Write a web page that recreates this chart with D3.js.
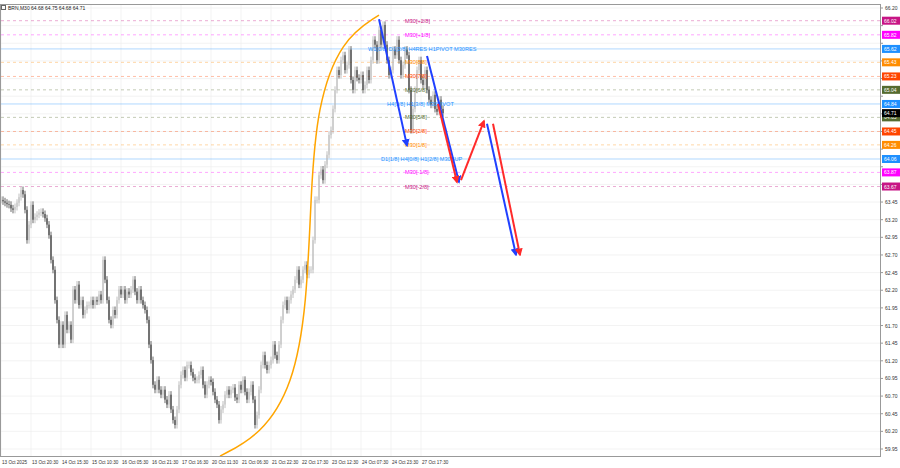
<!DOCTYPE html>
<html><head><meta charset="utf-8">
<script src="https://cdn.jsdelivr.net/npm/d3@7"></script>
<style>body{margin:0;background:#fff}text{font-family:"Liberation Sans",sans-serif}</style>
</head><body>
<script>
// closes of the M30 candles (~1 candle per 2px)
const closes = [63.48,63.46,63.44,63.42,63.41,63.36,63.34,63.38,63.44,63.52,63.62,63.56,63.34,62.91,63.13,63.41,63.20,63.24,63.27,63.30,63.31,63.28,63.22,63.13,62.98,62.63,62.49,62.06,61.78,61.43,61.71,61.43,61.85,61.64,61.71,61.50,62.21,62.06,62.28,61.99,62.06,61.85,61.92,61.99,61.99,62.06,61.99,62.06,62.04,62.14,62.06,62.63,62.35,62.06,61.78,61.71,61.92,61.85,62.06,62.21,62.14,62.21,62.06,62.18,62.14,62.21,62.35,62.18,62.06,62.21,62.06,61.99,61.92,61.78,61.43,61.21,60.86,60.79,60.93,60.79,60.72,60.79,60.65,60.58,60.72,60.51,60.36,60.29,60.51,60.86,61.00,61.07,60.96,61.14,61.14,61.04,60.96,60.93,60.93,61.00,61.07,60.86,60.72,60.86,60.93,60.90,60.76,60.65,60.58,60.36,60.51,60.58,60.72,60.79,60.72,60.79,60.82,60.68,60.65,60.86,60.79,60.93,60.76,60.65,60.76,60.86,60.65,60.29,60.43,60.79,61.14,61.28,61.14,61.07,61.14,61.21,61.43,61.28,61.21,61.43,61.78,61.99,62.06,61.92,62.06,62.14,62.21,62.35,62.49,62.28,62.35,62.49,62.56,62.42,62.49,62.49,62.91,63.48,63.48,63.83,63.91,63.76,63.98,64.12,64.40,64.47,64.77,65.04,65.32,65.25,65.46,65.53,65.32,65.39,65.61,65.18,65.04,65.32,65.21,65.18,65.25,65.04,65.11,65.32,65.18,65.46,65.75,65.68,65.46,65.89,65.68,65.96,65.68,65.46,65.25,65.32,65.61,65.53,65.75,65.46,65.25,65.39,65.61,65.53,65.04,64.47,64.77,65.04,65.32,65.46,65.18,65.11,65.32,65.04,64.90,64.83,64.97,64.77,64.73,64.90,64.77,64.71];
const wick = 0.05;
const timeLabels = ["13 Oct 2025","13 Oct 20:30","14 Oct 15:30","15 Oct 10:30","16 Oct 05:30","16 Oct 21:30","17 Oct 16:30","20 Oct 11:30","21 Oct 06:30","21 Oct 22:30","22 Oct 17:30","23 Oct 12:30","24 Oct 07:30","24 Oct 23:30","27 Oct 17:30"];
const priceTicks = d3.range(59.95, 66.21, 0.25);
// levels: price, colour, label, label start (candle index), style
const levels = [
  [66.02,"#c71585","M30[+2/8]",202,"dash"],
  [65.82,"#ff00ff","M30[+1/8]",202,"dash"],
  [65.62,"#1e90ff","W1[0/8] D1[2/8] H4RES H1PIVOT M30RES",183.5,"solid"],
  [65.43,"#ff8c00","M30[8/8]",202,"dash"],
  [65.23,"#ff4500","M30[7/8]",202,"dash"],
  [65.04,"#556b2f","M30[6/8]",202,"dash"],
  [64.84,"#1e90ff","H4[3/8] H1[3/8] M30PIVOT",193,"solid"],
  [64.65,"#556b2f","M30[5/8]",202,"dash"],
  [64.45,"#ff4500","M30[2/8]",202,"dash"],
  [64.26,"#ff8c00","M30[1/8]",202,"dash"],
  [64.06,"#1e90ff","D1[1/8] H4[0/8] H1[2/8] M30SUP",190,"solid"],
  [63.87,"#ff00ff","M30[-1/8]",202,"dash"],
  [63.67,"#c71585","M30[-2/8]",202,"dash"]
];
const lastPrice = 64.71;
// forecast arrows: [i1,p1,i2,p2,colour]
const arrows = [
  [189,66.04,203,64.25,"#2040ff"],
  [213,65.52,229,63.73,"#2040ff"],
  [218.5,64.84,228,63.73,"#ff2a2a"],
  [230,63.76,241.5,64.60,"#ff2a2a"],
  [243,64.56,257.5,62.70,"#2040ff"],
  [246,64.56,259.5,62.70,"#ff2a2a"]
];
const curve = [[109.5,59.85],[130,60.15],[146,60.85],[153,62.0],[155,63.6],[158,64.8],[170,65.75],[189,66.1]];

const W = 900, H = 468, left = 1, right = 880, plotTop = 8, bottom = 449;
const svg = d3.select("body").append("svg").attr("width", W).attr("height", H);
const x = d3.scaleLinear().domain([0, 1]).range([left, left + 2]);
const y = d3.scaleLinear().domain([59.95, 66.20]).range([bottom, plotTop]);

// grid
svg.append("g").selectAll("line").data(priceTicks).join("line")
  .attr("x1", left).attr("x2", right).attr("y1", d => y(d)).attr("y2", d => y(d))
  .attr("stroke", "#eeeeee").attr("stroke-width", 0.7);
svg.append("g").selectAll("line").data(timeLabels).join("line")
  .attr("x1", (d, i) => x(i * 15)).attr("x2", (d, i) => x(i * 15))
  .attr("y1", 4).attr("y2", 456).attr("stroke", "#eeeeee").attr("stroke-width", 0.7);

// level lines
levels.forEach(([p, c, lab, li, st]) => {
  svg.append("line").attr("x1", left).attr("x2", right).attr("y1", y(p)).attr("y2", y(p))
    .attr("stroke", c).attr("stroke-width", st === "solid" ? 1 : 0.7)
    .attr("stroke-opacity", st === "solid" ? 0.35 : 0.5)
    .attr("stroke-dasharray", st === "solid" ? null : "3,3");
});

// candles
const candles = closes.map((c, i) => {
  const o = i ? closes[i - 1] : c;
  return {i, o, c, h: Math.max(o, c) + wick, l: Math.min(o, c) - wick};
});
const g = svg.append("g");
g.selectAll("line").data(candles).join("line")
  .attr("x1", d => x(d.i)).attr("x2", d => x(d.i)).attr("y1", d => y(d.h)).attr("y2", d => y(d.l))
  .attr("stroke", d => d.c >= d.o ? "#b0b0b0" : "#444444").attr("stroke-width", 0.8);
g.selectAll("rect").data(candles).join("rect")
  .attr("x", d => x(d.i) - 0.5).attr("width", 1)
  .attr("y", d => y(Math.max(d.o, d.c))).attr("height", d => Math.max(0.5, Math.abs(y(d.o) - y(d.c))))
  .attr("fill", d => d.c >= d.o ? "#c0c0c0" : "#333333");

// level labels
levels.forEach(([p, c, lab, li]) => {
  svg.append("text").attr("x", x(li)).attr("y", y(p) + 2).attr("font-size", 5.6)
    .attr("fill", c).text(lab);
});

// orange curve
svg.append("path").datum(curve)
  .attr("d", d3.line().x(d => x(d[0])).y(d => y(d[1])).curve(d3.curveBasis))
  .attr("fill", "none").attr("stroke", "#ffa500").attr("stroke-width", 1.5);

// arrows
const defs = svg.append("defs");
["#2040ff", "#ff2a2a"].forEach((c, k) => {
  defs.append("marker").attr("id", "ah" + k).attr("viewBox", "0 0 10 10").attr("refX", 8).attr("refY", 5)
    .attr("markerWidth", 4).attr("markerHeight", 4).attr("orient", "auto")
    .append("path").attr("d", "M0,0 L10,5 L0,10 Z").attr("fill", c);
});
arrows.forEach(([i1, p1, i2, p2, c]) => {
  svg.append("line").attr("x1", x(i1)).attr("y1", y(p1)).attr("x2", x(i2)).attr("y2", y(p2))
    .attr("stroke", c).attr("stroke-width", 2)
    .attr("marker-end", `url(#ah${c === "#2040ff" ? 0 : 1})`);
});

// frame
svg.append("rect").attr("x", 0.5).attr("y", 4.5).attr("width", right).attr("height", 452)
  .attr("fill", "none").attr("stroke", "#999").attr("stroke-width", 1);

// price axis
const tags = levels.map(l => [l[0], l[1]]).concat([[lastPrice, "#000000"]]);
const freeTicks = priceTicks.filter(t => tags.every(([p]) => Math.abs(y(p) - y(t)) > 7));
const ax = svg.append("g").attr("transform", `translate(${right + 1},0)`);
ax.selectAll("text").data(freeTicks).join("text")
  .attr("x", 4).attr("y", d => y(d) + 2).attr("font-size", 5).attr("fill", "#333")
  .text(d => d.toFixed(2));
ax.selectAll("line").data(priceTicks).join("line")
  .attr("x1", 0).attr("x2", 2).attr("y1", d => y(d)).attr("y2", d => y(d)).attr("stroke", "#999");
tags.forEach(([p, c]) => {
  ax.append("rect").attr("x", 1).attr("y", y(p) - 4).attr("width", 18).attr("height", 8).attr("fill", c);
  ax.append("text").attr("x", 3).attr("y", y(p) + 2).attr("font-size", 5).attr("fill", "#fff").text(p.toFixed(2));
});

// time axis
svg.append("g").selectAll("text").data(timeLabels).join("text")
  .attr("x", (d, i) => x(i * 15) + 1).attr("y", 464).attr("font-size", 4.6).attr("fill", "#333").text(d => d);

// title
svg.append("text").attr("x", 8).attr("y", 10).attr("font-size", 5).attr("fill", "#222")
  .text("BRN,M30  64.68 64.75 64.68 64.71");
svg.append("rect").attr("x", 1.5).attr("y", 5.5).attr("width", 4).attr("height", 4).attr("fill", "none").attr("stroke", "#666");
</script>
</body></html>
